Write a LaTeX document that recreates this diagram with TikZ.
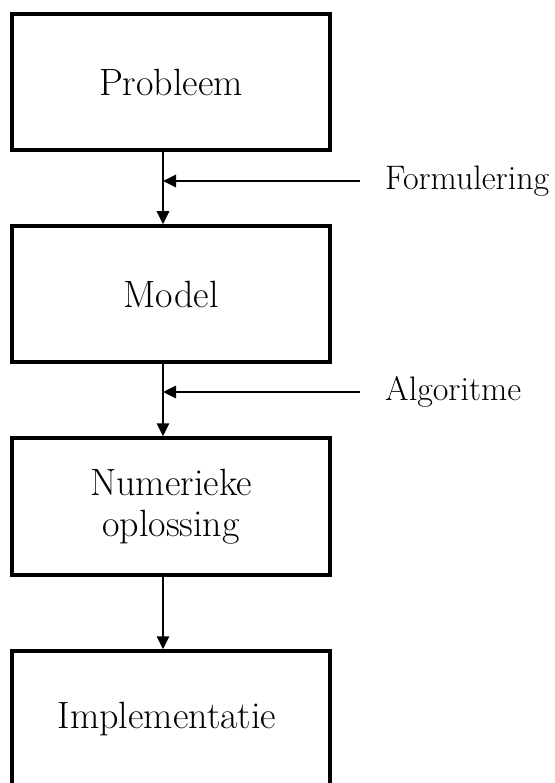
\documentclass[tikz,border=0pt]{standalone}
\usetikzlibrary{arrows.meta}
\begin{document}
\begin{tikzpicture}[x=1pt,y=-1pt,
  stagebox/.style={draw, line width=3.5pt, minimum width=318pt, inner sep=0pt, align=center, font=\fontsize{38}{41}\selectfont},
  flow/.style={line width=2.6pt, -{Triangle[length=13pt,width=12pt]}},
  sidelabel/.style={anchor=west, inner sep=0pt, font=\fontsize{34}{38}\selectfont}]
\path[use as bounding box, clip] (0,0) rectangle (554,783);
\node[stagebox, minimum height=136pt] (p) at (171,82) {Probleem};
\node[stagebox, minimum height=136pt] (m) at (171,294) {Model};
\node[stagebox, minimum height=137pt] (n) at (171,506.5) {Numerieke\\oplossing};
\node[stagebox, minimum height=220pt] (i) at (171,761) {};
\node[font=\fontsize{38}{41}\selectfont] (it) at (167,719) {Implementatie};
\node[sidelabel] (f) at (385,181) {Formulering};
\node[sidelabel] (a) at (385,392) {Algoritme};
\coordinate (fs) at (360,181);
\coordinate (as) at (360,392);
\draw[flow] ([xshift=-8pt]p.south) -- ([xshift=-8pt]m.north);
\draw[flow] ([xshift=-8pt]m.south) -- ([xshift=-8pt]n.north);
\draw[flow] ([xshift=-8pt]n.south) -- ([xshift=-8pt]i.north);
\draw[flow] (fs) -- ([xshift=-8pt]p.south |- fs);
\draw[flow] (as) -- ([xshift=-8pt]m.south |- as);
\end{tikzpicture}
\end{document}
